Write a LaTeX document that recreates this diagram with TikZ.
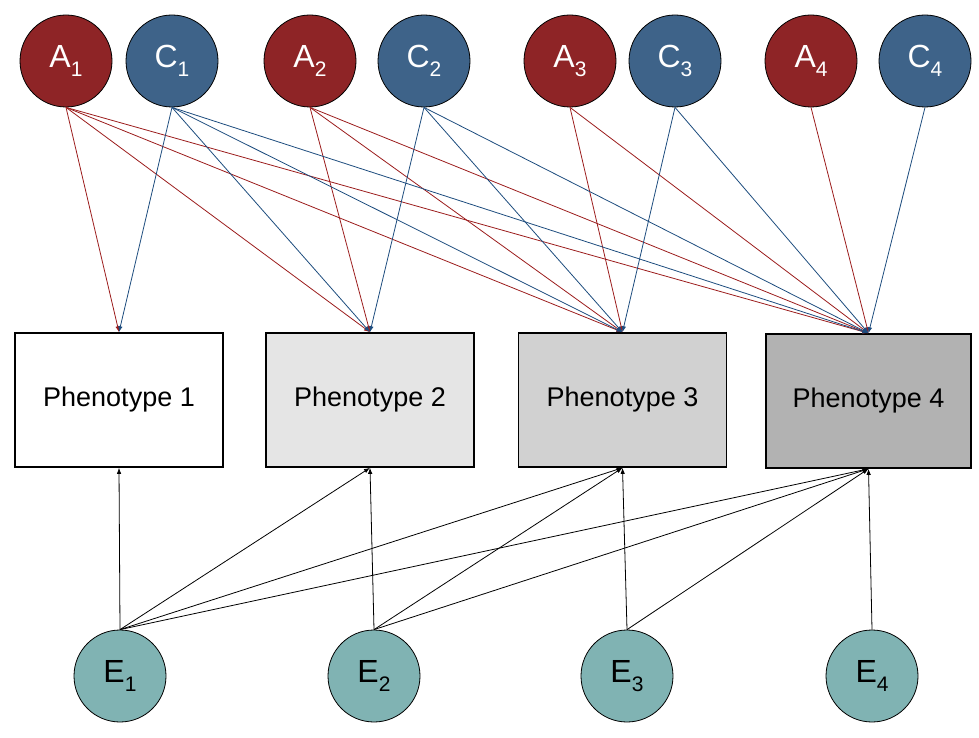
\documentclass[tikz,border=0pt]{standalone}
\usepackage{fontspec}
\setmainfont{Liberation Sans}
\usetikzlibrary{arrows.meta}
\definecolor{addred}{HTML}{8E2426}
\definecolor{comblue}{HTML}{3E6389}
\definecolor{envteal}{HTML}{80B3B3}
\definecolor{redline}{HTML}{9B1C1C}
\definecolor{blueline}{HTML}{1D4C7E}
\newcommand{\vlabel}[2]{#1\raisebox{-9pt}{\fontsize{21}{21}\selectfont #2}}

\begin{document}
\begin{tikzpicture}[x=1pt,y=-1pt,
  latent/.style={circle,draw=black,line width=0.8pt,minimum size=92pt,inner sep=0pt,font=\fontsize{32}{32}\selectfont},
  acirc/.style={latent,fill=addred,text=white},
  ccirc/.style={latent,fill=comblue,text=white},
  ecirc/.style={latent,fill=envteal,text=black},
  pheno/.style={rectangle,draw=black,line width=1.6pt,minimum width=208pt,minimum height=134pt,inner sep=0pt,font=\fontsize{27}{27}\selectfont},
  arr/.style={draw,-{Latex[length=6pt,width=4.5pt]},line width=0.8pt},
  aline/.style={every edge/.style={arr,color=redline}},
  cline/.style={every edge/.style={arr,color=blueline}},
  eline/.style={every edge/.style={arr,color=black}}]
\useasboundingbox (0,0) rectangle (979,738);
% Modelo de Cholesky: factores A, C y E sobre cuatro fenotipos
\node[pheno,fill=white] (P1) at (119,400) {Phenotype 1};
\node[pheno,fill=black!10] (P2) at (370,400) {Phenotype 2};
\node[pheno,fill=black!18] (P3) at (622.5,400) {Phenotype 3};
\node[pheno,fill=black!30,minimum width=205pt] (P4) at (868.5,401) {Phenotype 4};
\node[acirc] (A1) at (66,61) {\vlabel{A}{1}};
\node[ccirc] (C1) at (172,61) {\vlabel{C}{1}};
\node[acirc] (A2) at (310,61) {\vlabel{A}{2}};
\node[ccirc] (C2) at (424,61) {\vlabel{C}{2}};
\node[acirc] (A3) at (570,61) {\vlabel{A}{3}};
\node[ccirc] (C3) at (675,61) {\vlabel{C}{3}};
\node[acirc] (A4) at (811,61) {\vlabel{A}{4}};
\node[ccirc] (C4) at (925,61) {\vlabel{C}{4}};
\node[ecirc] (E1) at (120,676) {\vlabel{E}{1}};
\node[ecirc] (E2) at (374,676) {\vlabel{E}{2}};
\node[ecirc] (E3) at (627,676) {\vlabel{E}{3}};
\node[ecirc] (E4) at (872,676) {\vlabel{E}{4}};
% flechas A
\path[aline] (A1.south) edge (P1.north) edge (P2.north) edge (P3.north) edge (P4.north);
\path[aline] (A2.south) edge (P2.north) edge (P3.north) edge (P4.north);
\path[aline] (A3.south) edge (P3.north) edge (P4.north);
\path[aline] (A4.south) edge (P4.north);
% flechas C
\path[cline] (C1.south) edge (P1.north) edge (P2.north) edge (P3.north) edge (P4.north);
\path[cline] (C2.south) edge (P2.north) edge (P3.north) edge (P4.north);
\path[cline] (C3.south) edge (P3.north) edge (P4.north);
\path[cline] (C4.south) edge (P4.north);
% flechas E
\path[eline] (E1.north) edge (P1.south) edge (P2.south) edge (P3.south) edge (P4.south);
\path[eline] (E2.north) edge (P2.south) edge (P3.south) edge (P4.south);
\path[eline] (E3.north) edge (P3.south) edge (P4.south);
\path[eline] (E4.north) edge (P4.south);
\end{tikzpicture}
\end{document}
